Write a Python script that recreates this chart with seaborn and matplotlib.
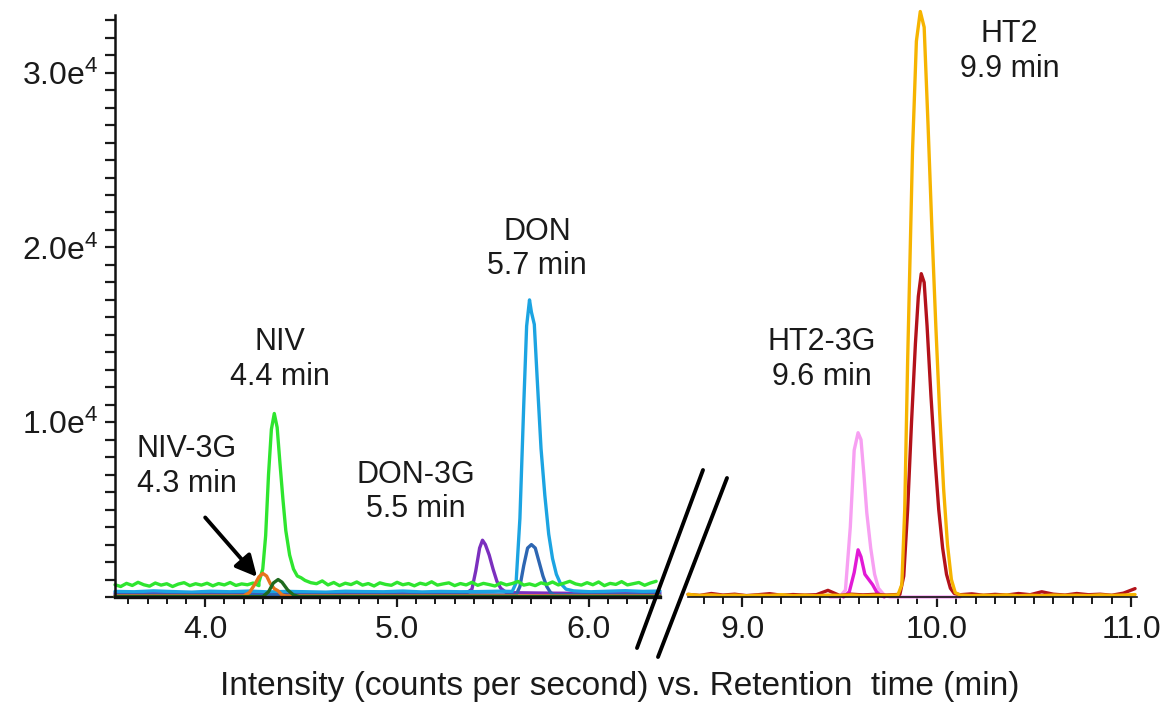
import numpy as np
import seaborn as sns
import matplotlib.pyplot as plt
from matplotlib.lines import Line2D
from matplotlib.ticker import MultipleLocator

sns.set_style("ticks")
plt.rcParams['font.family'] = ['Liberation Sans', 'DejaVu Sans']
plt.rcParams['mathtext.fontset'] = 'custom'
plt.rcParams['mathtext.rm'] = 'Liberation Sans'
plt.rcParams['mathtext.default'] = 'regular'


def regular(start, step, vals):
    # sampled baseline: evenly spaced acquisition times, typed intensities
    return start + step * np.arange(len(vals)), list(vals)


# ---------------- left segment (3.5 - 6.4 min) ----------------
# NIV (bright green)
g_t1, g_v1 = regular(3.53, 0.03, [700, 600, 780, 660, 840, 700, 620, 800, 680, 760,
                                  600, 740, 820, 650, 760, 680, 790, 640, 770, 690,
                                  830, 660, 750, 700, 800, 650])
niv_pk_t = [4.28, 4.30, 4.315, 4.33, 4.345, 4.36, 4.375, 4.39, 4.405, 4.42,
            4.44, 4.46, 4.48, 4.50, 4.52, 4.55]
niv_pk_v = [850, 1600, 3500, 7000, 9600, 10500, 9700, 7600, 5600, 3800,
            2400, 1600, 1200, 1100, 950, 820]
g_t2, g_v2 = regular(4.58, 0.03, [760, 920, 690, 830, 650, 790, 710, 860, 680, 770,
                                  630, 810, 720, 670, 840, 700, 770, 640, 790, 710,
                                  870, 680, 750, 810, 650, 770, 690, 840, 670, 780,
                                  710, 630, 810, 690, 770, 890, 680, 750, 650, 810,
                                  720, 860, 690, 790, 900, 750, 680, 820, 700, 860,
                                  650, 780, 720, 880, 690, 760, 830, 670, 800, 900])
niv_t = list(g_t1) + niv_pk_t + list(g_t2)
niv_v = g_v1 + niv_pk_v + g_v2

# NIV-3G (orange)
niv3g_t = [3.53, 4.20, 4.23, 4.26, 4.28, 4.30, 4.32, 4.34, 4.36, 4.38, 4.40, 4.42, 6.37]
niv3g_v = [60, 60, 250, 750, 1150, 1350, 1200, 750, 480, 350, 120, 60, 60]

# second NIV transition (dark green)
niv2_t = [3.53, 4.30, 4.33, 4.355, 4.38, 4.40, 4.43, 4.46, 4.49, 6.37]
niv2_v = [20, 20, 300, 800, 1000, 850, 400, 120, 20, 20]

# DON (light blue)
b_t1, b_v1 = regular(3.53, 0.1, [320, 300, 350, 310, 280, 330, 300, 340, 290, 320,
                                 300, 280, 330, 310, 300, 340, 290, 320, 300, 310, 330])
don_pk_t = [5.60, 5.62, 5.64, 5.66, 5.675, 5.69, 5.70, 5.715, 5.73, 5.75,
            5.77, 5.79, 5.81, 5.83, 5.85, 5.88]
don_pk_v = [320, 800, 4500, 11000, 15500, 17000, 16300, 15600, 12500, 8500,
            5800, 3600, 2200, 1300, 800, 450]
b_t2, b_v2 = regular(5.92, 0.09, [350, 300, 330, 360, 320, 340])
don_t = list(b_t1) + don_pk_t + list(b_t2)
don_v = b_v1 + don_pk_v + b_v2

# second DON transition (dark blue)
don2_t = [3.53, 5.62, 5.64, 5.66, 5.68, 5.70, 5.72, 5.74, 5.76, 5.78, 5.80, 5.82, 6.37]
don2_v = [120, 120, 600, 1800, 2800, 3000, 2800, 2000, 1200, 600, 250, 120, 120]

# DON-3G (purple)
don3g_t = [3.53, 3.9, 4.3, 4.7, 5.1, 5.36, 5.39, 5.41, 5.43, 5.445, 5.46, 5.48,
           5.50, 5.52, 5.54, 5.57, 5.8, 6.1, 6.37]
don3g_v = [220, 200, 240, 190, 220, 210, 450, 1500, 2800, 3250, 3000, 2400,
           1600, 900, 500, 250, 220, 200, 230]

# ---------------- right segment (8.7 - 11.0 min) ----------------
# HT2-3G (light pink) and second transition (magenta)
ht23g_t = [9.45, 9.50, 9.53, 9.555, 9.575, 9.595, 9.61, 9.625, 9.64, 9.66,
           9.68, 9.70, 9.73, 9.76, 10.12]
ht23g_v = [0, 0, 400, 4000, 8400, 9400, 9000, 7000, 4800, 2800,
           1300, 500, 100, 0, 0]
ht23g2_t = [9.52, 9.55, 9.575, 9.595, 9.61, 9.63, 9.65, 9.67, 9.69, 9.71, 9.73]
ht23g2_v = [0, 300, 1400, 2700, 2300, 1300, 1000, 700, 300, 100, 0]

# HT2 (gold)
y_t1, y_v1 = regular(8.72, 0.06, [150, 90, 120, 80, 110, 70, 100, 90, 130, 80,
                                  100, 70, 110, 90, 120, 80, 100, 90])
ht2_pk_t = [9.80, 9.82, 9.835, 9.85, 9.875, 9.895, 9.915, 9.935, 9.955, 9.975,
            9.995, 10.015, 10.035, 10.055, 10.075, 10.095]
ht2_pk_v = [120, 700, 5000, 13500, 25500, 31800, 33500, 32600, 27000, 21000,
            15500, 10500, 6200, 3000, 1000, 250]
y_t2, y_v2 = regular(10.12, 0.06, [110, 80, 100, 90, 120, 70, 100, 80, 110, 90,
                                   100, 80, 120, 90, 110, 140])
ht2_t = list(y_t1) + ht2_pk_t + list(y_t2)
ht2_v = y_v1 + ht2_pk_v + y_v2

# second HT2 transition (dark red)
r_t1, r_v1 = regular(8.72, 0.06, [150, 90, 200, 110, 160, 80, 130, 190, 100, 140,
                                  110, 130, 380, 90, 160, 120, 150, 110])
ht22_pk_t = [9.81, 9.83, 9.85, 9.87, 9.89, 9.905, 9.92, 9.935, 9.95, 9.97,
             9.99, 10.01, 10.03, 10.05, 10.07, 10.09]
ht22_pk_v = [150, 1200, 5000, 10000, 14500, 17200, 18500, 18000, 15500, 11500,
             8000, 5000, 2800, 1300, 500, 200]
r_t2, r_v2 = regular(10.12, 0.06, [130, 180, 100, 150, 110, 200, 130, 300, 160, 110,
                                   200, 130, 160, 100, 220, 480])
ht22_t = list(r_t1) + ht22_pk_t + list(r_t2)
ht22_v = r_v1 + ht22_pk_v + r_v2

left_traces = [
    (don3g_t, don3g_v, "#7b2fbe"),
    (don_t, don_v, "#1ca4e2"),
    (don2_t, don2_v, "#2d66b2"),
    (niv_t, niv_v, "#2fe52f"),
    (niv3g_t, niv3g_v, "#e8741c"),
    (niv2_t, niv2_v, "#1f6a1f"),
]
right_traces = [
    (ht23g_t, ht23g_v, "#f7a0f2"),
    (ht23g2_t, ht23g2_v, "#e21ad6"),
    (ht22_t, ht22_v, "#b3121a"),
    (ht2_t, ht2_v, "#f6b400"),
]

labels = [
    # (panel, text, x, y)
    (0, "NIV\n4.4 min", 4.39, 13600),
    (0, "NIV-3G\n4.3 min", 3.905, 7450),
    (0, "DON-3G\n5.5 min", 5.095, 6000),
    (0, "DON\n5.7 min", 5.73, 19900),
    (1, "HT2-3G\n9.6 min", 9.41, 13600),
    (1, "HT2\n9.9 min", 10.375, 31200),
]

Y_TICKS = [10000, 20000, 30000]
Y_TICK_LABELS = [r"1.0e$^4$", r"2.0e$^4$", r"3.0e$^4$"]
XLIM_LEFT = (3.53, 6.37)
XLIM_RIGHT = (8.72, 11.03)
YLIM = (0, 33300)

W, H = 1167, 708
fig = plt.figure(figsize=(W / 100, H / 100), dpi=100)
ax1 = fig.add_axes([115 / W, 111 / H, 545 / W, 582 / H])
ax2 = fig.add_axes([688 / W, 111 / H, 449 / W, 582 / H])

for ax, traces in ((ax1, left_traces), (ax2, right_traces)):
    for t, v, c in traces:
        sns.lineplot(x=t, y=v, ax=ax, color=c, lw=2.4, estimator=None,
                     sort=False, legend=False, clip_on=False)
    ax.set_ylim(*YLIM)
    ax.set_xlabel("")
    ax.set_ylabel("")
    ax.xaxis.set_major_locator(MultipleLocator(1.0))
    ax.xaxis.set_minor_locator(MultipleLocator(0.1))
    ax.xaxis.set_major_formatter(plt.FormatStrFormatter("%.1f"))
    ax.tick_params(axis='x', which='major', length=7, width=1.6, pad=6,
                   labelsize=23, colors='#1a1a1a')
    ax.tick_params(axis='x', which='minor', length=5, width=1.4, colors='#1a1a1a')
    for s in ('top', 'right'):
        ax.spines[s].set_visible(False)
    ax.spines['bottom'].set_linewidth(2.4)
    ax.spines['bottom'].set_color('#111111')
    ax.patch.set_alpha(0)

ax1.set_xlim(*XLIM_LEFT)
ax2.set_xlim(*XLIM_RIGHT)

ax1.set_yticks(Y_TICKS)
ax1.set_yticklabels(Y_TICK_LABELS)
ax1.yaxis.set_minor_locator(MultipleLocator(1000))
ax1.tick_params(axis='y', which='both', length=7, width=1.6, pad=5,
                labelsize=23, colors='#1a1a1a')
ax1.spines['left'].set_linewidth(1.8)
ax1.spines['left'].set_color('#111111')

ax2.spines['left'].set_visible(False)
ax2.tick_params(axis='y', which='both', left=False, labelleft=False)
ax2.spines['bottom'].set_linewidth(1.2)

for panel, txt, x, y in labels:
    ax = ax1 if panel == 0 else ax2
    ax.text(x, y, txt, ha='center', va='center', fontsize=22,
            linespacing=1.2, color='#1a1a1a')

ax1.annotate("", xy=(4.27, 1150), xytext=(4.0, 4550),
             arrowprops=dict(arrowstyle='-|>', lw=2.8, color='black',
                             mutation_scale=32, shrinkA=0, shrinkB=0))

# axis break marks
for (x0, y0), (x1, y1) in (((637, 648), (703, 470)), ((658, 657), (727, 478))):
    fig.add_artist(Line2D([x0 / W, x1 / W], [1 - y0 / H, 1 - y1 / H],
                          color='black', lw=2.8, solid_capstyle='round'))

fig.text(620 / W, 1 - 686 / H,
         "Intensity (counts per second) vs. Retention  time (min)",
         ha='center', va='center', fontsize=24, color='#1a1a1a')

fig.savefig("out.png", dpi=100)
